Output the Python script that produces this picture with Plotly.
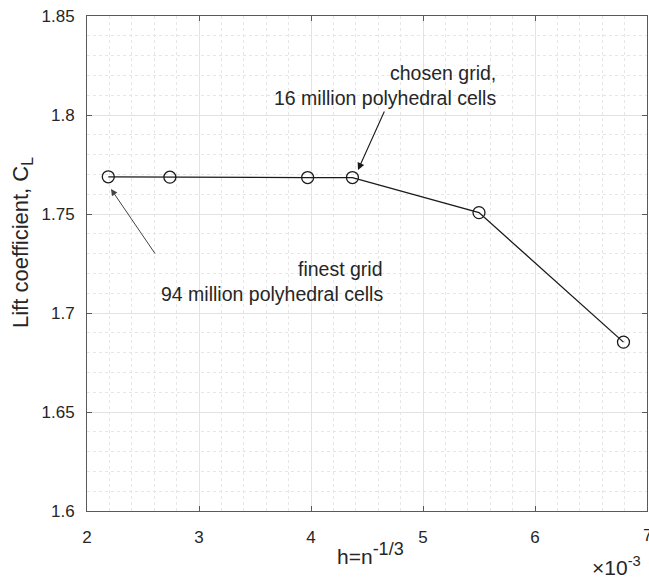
import plotly.graph_objects as go

# Data (h in units of 1e-3)
h_e3 = [2.19, 2.74, 3.97, 4.37, 5.50, 6.79]
cl = [1.7688, 1.7686, 1.7684, 1.7684, 1.7507, 1.6853]

x_ticks = [2, 3, 4, 5, 6, 7]
x_ticktext = ["2", "3", "4", "5", "6", "7"]
y_ticks = [1.6, 1.65, 1.7, 1.75, 1.8, 1.85]
y_ticktext = ["1.6", "1.65", "1.7", "1.75", "1.8", "1.85"]

W, H = 649, 578
L, R, T, B = 87, 2, 16, 67
PW = W - L - R
PH = H - T - B

def px(xp):
    return (xp - L) / PW

def py(yp):
    return (H - B - yp) / PH

FONT = "Liberation Sans, Arial, sans-serif"
TXT = "#262626"
AX = "#5a5a5a"

fig = go.Figure()
fig.add_trace(go.Scatter(
    x=h_e3, y=cl, mode="lines+markers",
    line=dict(color="#1a1a1a", width=1.3),
    marker=dict(symbol="circle-open", size=12, color="#1a1a1a", line=dict(width=1.3)),
    showlegend=False,
))

axis_common = dict(
    showline=True, linecolor=AX, linewidth=1, mirror="ticks",
    ticks="inside", ticklen=5, tickcolor=AX, tickwidth=1,
    showgrid=True, gridcolor="#e3e3e3", gridwidth=1, zeroline=False,
    tickfont=dict(family=FONT, size=17, color=TXT),
)

fig.update_layout(
    width=W, height=H,
    margin=dict(l=L, r=R, t=T, b=B, autoexpand=False),
    paper_bgcolor="white", plot_bgcolor="white",
    xaxis=dict(range=[2, 7], tickvals=x_ticks, ticktext=x_ticktext,
               ticklabelstandoff=11,
               minor=dict(dtick=0.2, showgrid=True, gridcolor="#e6e6e6", griddash="dot", gridwidth=1, ticks=""),
               **axis_common),
    yaxis=dict(range=[1.6, 1.85], tickvals=y_ticks, ticktext=y_ticktext,
               ticklabelstandoff=8,
               minor=dict(dtick=0.01, showgrid=True, gridcolor="#e6e6e6", griddash="dot", gridwidth=1, ticks=""),
               **axis_common),
    font=dict(family=FONT, size=16, color=TXT),
)

ann = []
# last x tick label (partly outside the page, as in the reference)
ann.append(dict(xref="x", yref="paper", x=x_ticks[-1], y=py(535), text=x_ticktext[-1], showarrow=False,
                font=dict(size=17, family=FONT, color=TXT), xanchor="center", yanchor="middle"))
# axis titles
ann.append(dict(xref="paper", yref="paper", x=px(22), y=py(243),
                text="Lift coefficient, C<sub><span style='font-size:16px'>L</span></sub>",
                textangle=-90, showarrow=False, font=dict(size=22, family=FONT, color=TXT),
                xanchor="center", yanchor="middle"))
ann.append(dict(xref="paper", yref="paper", x=px(370), y=py(553),
                text="h=n<sup><span style='font-size:18px'>-1/3</span></sup>",
                showarrow=False, font=dict(size=21, family=FONT, color=TXT),
                xanchor="center", yanchor="middle"))
ann.append(dict(xref="paper", yref="paper", x=px(643), y=py(566), text="×10<sup>-3</sup>",
                showarrow=False, font=dict(size=21, family=FONT, color=TXT),
                xanchor="right", yanchor="middle"))
# text labels
for txt, xr, yc in [("chosen grid,", 498, 73), ("16 million polyhedral cells", 498, 98),
                    ("finest grid", 385, 269), ("94 million polyhedral cells", 385, 294)]:
    ann.append(dict(xref="paper", yref="paper", x=px(xr), y=py(yc), text=txt, showarrow=False,
                    font=dict(size=19.5, family=FONT, color=TXT), xanchor="right", yanchor="middle"))
# arrows
ann.append(dict(xref="paper", yref="paper", x=px(358), y=py(170), ax=27, ay=-60, text="",
                showarrow=True, arrowhead=2, arrowsize=1.3, arrowwidth=1.1, arrowcolor="#1a1a1a"))
ann.append(dict(xref="paper", yref="paper", x=px(111), y=py(189), ax=45, ay=66, text="",
                showarrow=True, arrowhead=2, arrowsize=1.3, arrowwidth=1, arrowcolor="#444444"))
fig.update_layout(annotations=ann)

fig.write_html("out.html")
